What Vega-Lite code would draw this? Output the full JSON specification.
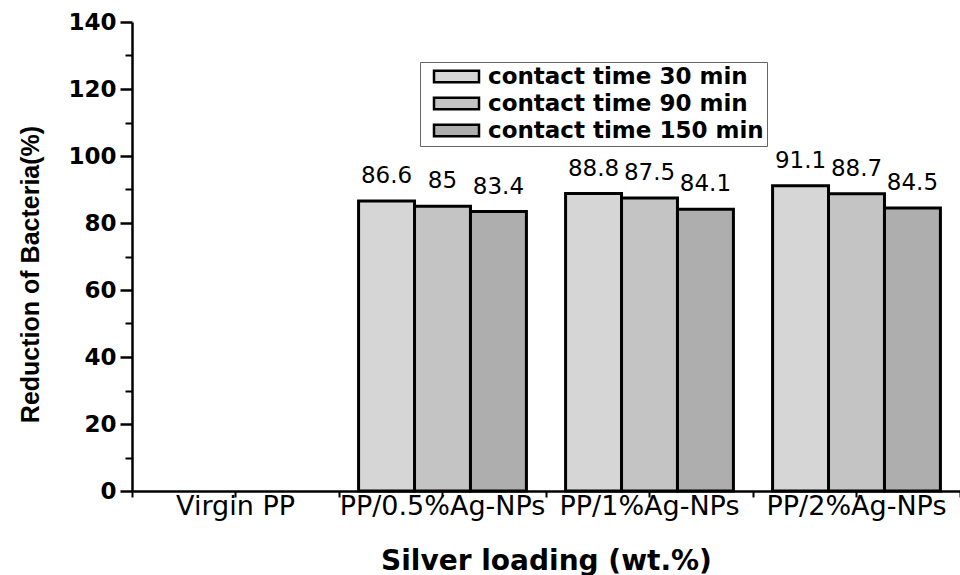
{
  "$schema": "https://vega.github.io/schema/vega-lite/v6.json",
  "width": 828,
  "height": 469,
  "autosize": "none",
  "padding": {"left": 132, "top": 22, "right": 0, "bottom": 84},
  "background": "white",
  "config": {"view": {"stroke": null}},
  "data": {
    "values": [
      {"sample": "PP/0.5%Ag-NPs", "time": "contact time 30 min", "value": 86.6},
      {"sample": "PP/0.5%Ag-NPs", "time": "contact time 90 min", "value": 85},
      {"sample": "PP/0.5%Ag-NPs", "time": "contact time 150 min", "value": 83.4},
      {"sample": "PP/1%Ag-NPs", "time": "contact time 30 min", "value": 88.8},
      {"sample": "PP/1%Ag-NPs", "time": "contact time 90 min", "value": 87.5},
      {"sample": "PP/1%Ag-NPs", "time": "contact time 150 min", "value": 84.1},
      {"sample": "PP/2%Ag-NPs", "time": "contact time 30 min", "value": 91.1},
      {"sample": "PP/2%Ag-NPs", "time": "contact time 90 min", "value": 88.7},
      {"sample": "PP/2%Ag-NPs", "time": "contact time 150 min", "value": 84.5}
    ]
  },
  "layer": [
    {
      "mark": {"type": "bar", "stroke": "black", "strokeWidth": 3, "strokeJoin": "miter"},
      "encoding": {
        "x": {
          "field": "sample", "type": "nominal",
          "scale": {"domain": ["Virgin PP", "PP/0.5%Ag-NPs", "PP/1%Ag-NPs", "PP/2%Ag-NPs"], "paddingInner": 0, "paddingOuter": 0},
          "axis": {"orient": "bottom", "title": null, "labels": false, "tickBand": "extent", "tickSize": 6, "tickWidth": 2, "tickColor": "black", "domainColor": "black", "domainWidth": 2.5}
        },
        "xOffset": {
          "field": "time", "type": "nominal",
          "scale": {"domain": ["contact time 30 min", "contact time 90 min", "contact time 150 min"], "paddingInner": 0, "paddingOuter": 0.35}
        },
        "y": {
          "field": "value", "type": "quantitative",
          "scale": {"domain": [0, 140], "nice": false},
          "axis": {
            "orient": "left", "values": [0, 20, 40, 60, 80, 100, 120, 140],
            "grid": false, "tickSize": 12, "tickWidth": 2.5, "tickColor": "black",
            "domainColor": "black", "domainWidth": 2.5,
            "labelFont": "DejaVu Sans", "labelFontWeight": "bold", "labelFontSize": 23, "labelColor": "black", "labelPadding": 4,
            "title": "Reduction of Bacteria(%)", "titleFont": "Liberation Sans", "titleFontWeight": "bold", "titleFontSize": 25, "titleColor": "black",
            "titleAngle": -90, "titleX": -102, "titleY": 252, "titleBaseline": "middle", "titleAlign": "center"
          }
        },
        "color": {
          "field": "time", "type": "nominal",
          "scale": {"domain": ["contact time 30 min", "contact time 90 min", "contact time 150 min"], "range": ["#d6d6d6", "#c4c4c4", "#aeaeae"]},
          "legend": {
            "title": null, "orient": "none", "legendX": 288, "legendY": 40,
            "symbolType": "M-2.5,-0.65H2.5V0.65H-2.5Z", "symbolSize": 324, "symbolStrokeColor": "black", "symbolStrokeWidth": 2.5, "symbolOpacity": 1, "symbolOffset": 22,
            "labelFont": "DejaVu Sans", "labelFontWeight": "bold", "labelFontSize": 23, "labelColor": "black", "labelOffset": 20, "labelLimit": 400,
            "rowPadding": 3, "padding": 3, "strokeColor": "#666666", "fillColor": "white"
          }
        }
      }
    },
    {
      "mark": {"type": "text", "baseline": "bottom", "dy": -13, "font": "DejaVu Sans", "fontSize": 23, "color": "black"},
      "encoding": {
        "x": {
          "field": "sample", "type": "nominal",
          "scale": {"domain": ["Virgin PP", "PP/0.5%Ag-NPs", "PP/1%Ag-NPs", "PP/2%Ag-NPs"], "paddingInner": 0, "paddingOuter": 0},
          "axis": {
            "orient": "bottom", "domain": false, "tickSize": 6, "tickWidth": 2, "tickColor": "black",
            "labelAngle": 0, "labelFont": "DejaVu Sans", "labelFontSize": 27, "labelColor": "black", "labelPadding": -4, "labelOverlap": false, "labelLimit": 0, "labelBaseline": "top",
            "title": "Silver loading (wt.%)", "titleFont": "DejaVu Sans", "titleFontWeight": "bold", "titleFontSize": 28, "titleColor": "black",
            "titleY": 78, "titleBaseline": "alphabetic"
          }
        },
        "xOffset": {
          "field": "time", "type": "nominal",
          "scale": {"domain": ["contact time 30 min", "contact time 90 min", "contact time 150 min"], "paddingInner": 0, "paddingOuter": 0.35}
        },
        "y": {
          "field": "value", "type": "quantitative",
          "scale": {"domain": [0, 140], "nice": false},
          "axis": {"orient": "left", "values": [10, 30, 50, 70, 90, 110, 130], "grid": false, "domain": false, "labels": false, "title": null, "tickSize": 7, "tickWidth": 2, "tickColor": "black"}
        },
        "text": {"field": "value", "type": "quantitative"}
      }
    }
  ],
  "resolve": {"axis": {"x": "independent", "y": "independent"}}
}
